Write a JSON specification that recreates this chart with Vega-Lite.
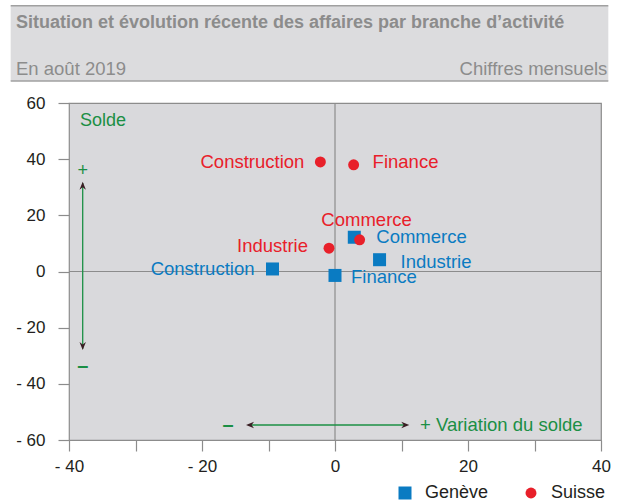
{
  "$schema": "https://vega.github.io/schema/vega-lite/v6.json",
  "width": 532,
  "height": 337,
  "autosize": {"type": "none"},
  "padding": {"left": 69, "top": 103, "right": 26, "bottom": 63},
  "background": "white",
  "config": {
    "font": "Liberation Sans",
    "view": {"fill": "#d9d9dc", "stroke": "#8c8c8c", "strokeWidth": 1.2},
    "legend": {"labelFont": "Liberation Sans"}
  },
  "data": {
    "values": [
      {"series": "Genève", "branch": "Construction", "x": -9.4, "y": 0.9},
      {"series": "Genève", "branch": "Finance", "x": 0.0, "y": -1.4},
      {"series": "Genève", "branch": "Industrie", "x": 6.7, "y": 4.2},
      {"series": "Genève", "branch": "Commerce", "x": 2.9, "y": 12.2},
      {"series": "Suisse", "branch": "Construction", "x": -2.2, "y": 39.0},
      {"series": "Suisse", "branch": "Finance", "x": 2.8, "y": 38.0},
      {"series": "Suisse", "branch": "Commerce", "x": 3.7, "y": 11.3},
      {"series": "Suisse", "branch": "Industrie", "x": -0.9, "y": 8.3}
    ]
  },
  "layer": [
    {
      "data": {"values": [{}]},
      "mark": {"type": "rect", "fill": "#dcdcde"},
      "encoding": {
        "x": {"datum": -48.77, "type": "quantitative"},
        "x2": {"datum": 41.1},
        "y": {"datum": 94.65, "type": "quantitative"},
        "y2": {"datum": 67.83}
      }
    },
    {
      "data": {"values": [{}]},
      "mark": {"type": "rule", "stroke": "#a0a0a0", "strokeWidth": 1.5},
      "encoding": {
        "x": {"datum": -48.77, "type": "quantitative"},
        "x2": {"datum": 41.1},
        "y": {"datum": 94.65, "type": "quantitative"}
      }
    },
    {
      "data": {"values": [{}]},
      "mark": {"type": "rule", "stroke": "#a0a0a0", "strokeWidth": 1.5},
      "encoding": {
        "x": {"datum": -48.77, "type": "quantitative"},
        "x2": {"datum": 41.1},
        "y": {"datum": 67.83, "type": "quantitative"}
      }
    },
    {
      "data": {"values": [{}]},
      "mark": {"type": "text", "align": "left", "baseline": "alphabetic", "fontSize": 18, "fontWeight": "bold", "color": "#8c8c8c"},
      "encoding": {
        "x": {"datum": -47.97, "type": "quantitative"},
        "y": {"datum": 86.6, "type": "quantitative"},
        "text": {"value": "Situation et évolution récente des affaires par branche d’activité"}
      }
    },
    {
      "data": {"values": [{}]},
      "mark": {"type": "text", "align": "left", "baseline": "alphabetic", "fontSize": 18.5, "color": "#8c8c8c"},
      "encoding": {
        "x": {"datum": -47.97, "type": "quantitative"},
        "y": {"datum": 69.97, "type": "quantitative"},
        "text": {"value": "En août 2019"}
      }
    },
    {
      "data": {"values": [{}]},
      "mark": {"type": "text", "align": "right", "baseline": "alphabetic", "fontSize": 18.5, "color": "#8c8c8c"},
      "encoding": {
        "x": {"datum": 40.95, "type": "quantitative"},
        "y": {"datum": 69.97, "type": "quantitative"},
        "text": {"value": "Chiffres mensuels"}
      }
    },
    {
      "data": {"values": [{}]},
      "mark": {"type": "rule", "stroke": "#8c8c8c", "strokeWidth": 1.2},
      "encoding": {"x": {"datum": 0, "type": "quantitative"}}
    },
    {
      "data": {"values": [{}]},
      "mark": {"type": "rule", "stroke": "#8c8c8c", "strokeWidth": 1.2},
      "encoding": {"y": {"datum": 0, "type": "quantitative"}}
    },
    {
      "data": {"values": [{}]},
      "mark": {"type": "rule", "stroke": "#1b8f45", "strokeWidth": 1.3},
      "encoding": {
        "x": {"datum": -37.94, "type": "quantitative"},
        "y": {"datum": 31.5, "type": "quantitative"},
        "y2": {"datum": -27.5}
      }
    },
    {
      "data": {"values": [{}]},
      "mark": {"type": "rule", "stroke": "#1b8f45", "strokeWidth": 1.3},
      "encoding": {
        "x": {"datum": -13.0, "type": "quantitative"},
        "x2": {"datum": 10.8},
        "y": {"datum": -54.66, "type": "quantitative"}
      }
    },
    {
      "data": {"values": [{}]},
      "mark": {"type": "point", "filled": true, "opacity": 1, "color": "#3a1e24", "size": 256, "shape": "M0,0 L-0.4,1 L0,0.7 L0.4,1 Z"},
      "encoding": {
        "x": {"datum": -37.94, "type": "quantitative"},
        "y": {"datum": 31.98, "type": "quantitative"}
      }
    },
    {
      "data": {"values": [{}]},
      "mark": {"type": "point", "filled": true, "opacity": 1, "color": "#3a1e24", "size": 256, "shape": "M0,0 L-0.4,-1 L0,-0.7 L0.4,-1 Z"},
      "encoding": {
        "x": {"datum": -37.94, "type": "quantitative"},
        "y": {"datum": -27.95, "type": "quantitative"}
      }
    },
    {
      "data": {"values": [{}]},
      "mark": {"type": "point", "filled": true, "opacity": 1, "color": "#3a1e24", "size": 256, "shape": "M0,0 L1,-0.4 L0.7,0 L1,0.4 Z"},
      "encoding": {
        "x": {"datum": -13.38, "type": "quantitative"},
        "y": {"datum": -54.66, "type": "quantitative"}
      }
    },
    {
      "data": {"values": [{}]},
      "mark": {"type": "point", "filled": true, "opacity": 1, "color": "#3a1e24", "size": 256, "shape": "M0,0 L-1,-0.4 L-0.7,0 L-1,0.4 Z"},
      "encoding": {
        "x": {"datum": 11.17, "type": "quantitative"},
        "y": {"datum": -54.66, "type": "quantitative"}
      }
    },
    {
      "data": {"values": [{}]},
      "mark": {"type": "text", "align": "left", "baseline": "middle", "fontSize": 18, "color": "#1b8f45"},
      "encoding": {
        "x": {"datum": -38.35, "type": "quantitative"},
        "y": {"datum": 53.7, "type": "quantitative"},
        "text": {"value": "Solde"}
      }
    },
    {
      "data": {"values": [{}]},
      "mark": {"type": "text", "align": "center", "baseline": "middle", "fontSize": 18, "color": "#1b8f45"},
      "encoding": {
        "x": {"datum": -37.94, "type": "quantitative"},
        "y": {"datum": 35.9, "type": "quantitative"},
        "text": {"value": "+"}
      }
    },
    {
      "data": {"values": [{}]},
      "mark": {"type": "text", "align": "center", "baseline": "middle", "fontSize": 20, "fontWeight": "bold", "color": "#1b8f45"},
      "encoding": {
        "x": {"datum": -37.94, "type": "quantitative"},
        "y": {"datum": -33.65, "type": "quantitative"},
        "text": {"value": "–"}
      }
    },
    {
      "data": {"values": [{}]},
      "mark": {"type": "text", "align": "center", "baseline": "middle", "fontSize": 20, "fontWeight": "bold", "color": "#1b8f45"},
      "encoding": {
        "x": {"datum": -16.09, "type": "quantitative"},
        "y": {"datum": -54.66, "type": "quantitative"},
        "text": {"value": "–"}
      }
    },
    {
      "data": {"values": [{}]},
      "mark": {"type": "text", "align": "left", "baseline": "middle", "fontSize": 18.5, "color": "#1b8f45"},
      "encoding": {
        "x": {"datum": 12.78, "type": "quantitative"},
        "y": {"datum": -54.66, "type": "quantitative"},
        "text": {"value": "+ Variation du solde"}
      }
    },
    {
      "mark": {"type": "point", "filled": true, "opacity": 1},
      "encoding": {
        "x": {
          "field": "x", "type": "quantitative",
          "scale": {"domain": [-40, 40], "nice": false, "zero": false},
          "axis": {
            "title": null, "values": [-40, -30, -20, -10, 0, 10, 20, 30, 40],
            "labelExpr": "datum.value % 20 === 0 ? (datum.value < 0 ? '- ' + abs(datum.value) : '' + datum.value) : ''",
            "domain": false, "grid": false, "tickColor": "#8c8c8c", "tickSize": 11, "tickWidth": 1.2,
            "labelFontSize": 17, "labelColor": "#231f20", "labelPadding": 7, "labelFlush": false, "labelBound": false, "labelOverlap": false, "labelFont": "Liberation Sans"
          }
        },
        "y": {
          "field": "y", "type": "quantitative",
          "scale": {"domain": [-60, 60], "nice": false, "zero": false},
          "axis": {
            "title": null, "values": [-60, -40, -20, 0, 20, 40, 60],
            "labelExpr": "datum.value < 0 ? '- ' + abs(datum.value) : '' + datum.value",
            "domain": false, "grid": false, "tickColor": "#8c8c8c", "tickSize": 11, "tickWidth": 1.2,
            "labelFontSize": 17, "labelColor": "#231f20", "labelPadding": 13, "labelFlush": false, "labelBound": false, "labelOverlap": false, "labelFont": "Liberation Sans"
          }
        },
        "color": {
          "field": "series", "type": "nominal",
          "scale": {"domain": ["Genève", "Suisse"], "range": ["#0a7bc2", "#e8202a"]},
          "legend": {
            "title": null, "orient": "none", "legendX": 327, "legendY": 381, "direction": "horizontal",
            "labelFontSize": 18, "labelColor": "#231f20", "symbolSize": 160, "symbolStrokeWidth": 0, "symbolOpacity": 1,
            "labelOffset": 11, "columnPadding": 33, "padding": 0
          }
        },
        "shape": {
          "field": "series", "type": "nominal",
          "scale": {"domain": ["Genève", "Suisse"], "range": ["square", "circle"]}
        },
        "size": {
          "field": "series", "type": "nominal",
          "scale": {"domain": ["Genève", "Suisse"], "range": [169, 120]},
          "legend": null
        }
      }
    },
    {
      "transform": [{"filter": "datum.series === 'Suisse' && datum.branch === 'Construction'"}],
      "mark": {"type": "text", "align": "right", "baseline": "middle", "dx": -16, "dy": 0, "fontSize": 18.5, "color": "#e8202a"},
      "encoding": {"x": {"field": "x", "type": "quantitative"}, "y": {"field": "y", "type": "quantitative"}, "text": {"field": "branch"}}
    },
    {
      "transform": [{"filter": "datum.series === 'Suisse' && datum.branch === 'Industrie'"}],
      "mark": {"type": "text", "align": "right", "baseline": "middle", "dx": -21, "dy": -2, "fontSize": 18.5, "color": "#e8202a"},
      "encoding": {"x": {"field": "x", "type": "quantitative"}, "y": {"field": "y", "type": "quantitative"}, "text": {"field": "branch"}}
    },
    {
      "transform": [{"filter": "datum.series === 'Suisse' && datum.branch === 'Finance'"}],
      "mark": {"type": "text", "align": "left", "baseline": "middle", "dx": 19, "dy": -3, "fontSize": 18.5, "color": "#e8202a"},
      "encoding": {"x": {"field": "x", "type": "quantitative"}, "y": {"field": "y", "type": "quantitative"}, "text": {"field": "branch"}}
    },
    {
      "transform": [{"filter": "datum.series === 'Suisse' && datum.branch === 'Commerce'"}],
      "mark": {"type": "text", "align": "center", "baseline": "middle", "dx": 7, "dy": -20, "fontSize": 18.5, "color": "#e8202a"},
      "encoding": {"x": {"field": "x", "type": "quantitative"}, "y": {"field": "y", "type": "quantitative"}, "text": {"field": "branch"}}
    },
    {
      "transform": [{"filter": "datum.series === 'Genève' && datum.branch === 'Commerce'"}],
      "mark": {"type": "text", "align": "left", "baseline": "middle", "dx": 22, "dy": 0, "fontSize": 18.5, "color": "#0a7bc2"},
      "encoding": {"x": {"field": "x", "type": "quantitative"}, "y": {"field": "y", "type": "quantitative"}, "text": {"field": "branch"}}
    },
    {
      "transform": [{"filter": "datum.series === 'Genève' && datum.branch === 'Industrie'"}],
      "mark": {"type": "text", "align": "left", "baseline": "middle", "dx": 21, "dy": 2, "fontSize": 18.5, "color": "#0a7bc2"},
      "encoding": {"x": {"field": "x", "type": "quantitative"}, "y": {"field": "y", "type": "quantitative"}, "text": {"field": "branch"}}
    },
    {
      "transform": [{"filter": "datum.series === 'Genève' && datum.branch === 'Finance'"}],
      "mark": {"type": "text", "align": "left", "baseline": "middle", "dx": 16, "dy": 2, "fontSize": 18.5, "color": "#0a7bc2"},
      "encoding": {"x": {"field": "x", "type": "quantitative"}, "y": {"field": "y", "type": "quantitative"}, "text": {"field": "branch"}}
    },
    {
      "transform": [{"filter": "datum.series === 'Genève' && datum.branch === 'Construction'"}],
      "mark": {"type": "text", "align": "right", "baseline": "middle", "dx": -18, "dy": 0, "fontSize": 18.5, "color": "#0a7bc2"},
      "encoding": {"x": {"field": "x", "type": "quantitative"}, "y": {"field": "y", "type": "quantitative"}, "text": {"field": "branch"}}
    }
  ]
}
